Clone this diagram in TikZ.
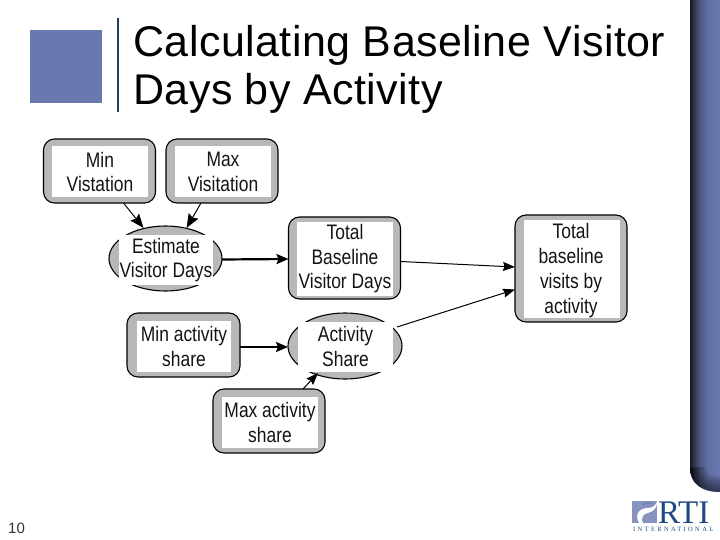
\documentclass[tikz,border=0pt]{standalone}
\usepackage{fontspec}
\setmainfont{Liberation Sans}
\newfontfamily\titlefont[LetterSpace=1.1]{Liberation Sans}
\newfontfamily\condfont[FakeStretch=0.83]{Liberation Sans}
\newfontfamily\logofont{Liberation Serif}
\newfontfamily\logosmall[LetterSpace=36]{Liberation Serif}
\usetikzlibrary{shapes.geometric,arrows.meta}
\definecolor{slateblue}{HTML}{6A78B0}
\definecolor{rulenavy}{HTML}{1F4060}
\definecolor{logonavy}{HTML}{1C4A80}
\definecolor{boxgray}{HTML}{B8B8B8}
\pgfdeclarehorizontalshading{bandshade}{100bp}{color(0bp)=(black!80!slateblue); color(25bp)=(black!80!slateblue); color(32bp)=(black!55!slateblue); color(42bp)=(black!25!slateblue); color(55bp)=(slateblue!92!black); color(75bp)=(slateblue); color(100bp)=(slateblue)}
\tikzset{
  outbox/.style={shape=rectangle,rounded corners=11pt,draw=black,fill=boxgray,line width=1.1pt,inner sep=0pt,outer sep=0pt},
  outell/.style={shape=ellipse,draw=black,fill=boxgray,line width=1.1pt,inner sep=0pt,outer sep=0pt},
  inbox/.style={shape=rectangle,fill=white,inner sep=0pt,outer sep=0pt,align=center,font=\condfont\fontsize{21}{24.5}\selectfont,text=black!92},
  thinarrow/.style={draw=black,line width=1pt,-{Stealth[length=14pt,width=11pt,inset=2pt]}},
  thickarrow/.style={draw=black,line width=2.2pt,-{Stealth[length=12pt,width=10pt,inset=2pt]}},
  hairarrow/.style={draw=black,line width=1pt,-{Stealth[length=12pt,width=9pt,inset=1.5pt]}},
  longarrow/.style={draw=black,line width=1pt,-{Stealth[length=12pt,width=9pt,inset=1.5pt]}}
}
\begin{document}
\begin{tikzpicture}[x=1pt,y=-1pt]
\useasboundingbox (0,0) rectangle (720,540);
% right band
\path[shading=bandshade]
  (690,0) -- (690,468) .. controls (690,482) and (700,492) .. (720,492) -- (720,0) -- cycle;
\begin{scope}
  \clip (690,0) -- (690,468) .. controls (690,482) and (700,492) .. (720,492) -- (720,0) -- cycle;
  \foreach \w in {4,8,12,16,20,24,28,32}
    \draw[black,opacity=.08,line width=\w pt] (690,468) .. controls (690,482) and (700,492) .. (720,492);
\end{scope}
% title decoration
\fill[slateblue] (30,30) rectangle (102,103);
\draw[rulenavy,line width=1.8pt] (118,18) -- (118,112);
\node[anchor=base west,inner sep=0pt,font=\titlefont\fontsize{43}{48}\selectfont] (title1) at (133,57) {Calculating Baseline Visitor};
\node[anchor=base west,inner sep=0pt,font=\titlefont\fontsize{43}{48}\selectfont] (title2) at (133,105) {Days by Activity};
\node[anchor=base west,inner sep=0pt,font=\fontsize{15}{16}\selectfont,text=black!80] (pagenum) at (8,533) {10};
% boxes
\node[outbox,minimum width=112pt,minimum height=64pt] (minv) at (99.5,171) {};
\node[inbox,minimum width=96pt,minimum height=51pt] (minvt) at (100,172) {Min\\Vistation};
\node[outbox,minimum width=112pt,minimum height=64pt] (maxv) at (222,171) {};
\node[inbox,minimum width=96pt,minimum height=51pt] (maxvt) at (223,172) {Max\\Visitation};
\node[outell,minimum width=113pt,minimum height=65pt] (est) at (165.5,258.5) {};
\node[inbox,minimum width=94pt,minimum height=50pt] (estt) at (166,260) {Estimate\\Visitor Days};
\node[outbox,minimum width=112pt,minimum height=82pt] (tot) at (344.5,258) {};
\node[inbox,minimum width=96pt,minimum height=74pt] (tott) at (345,259) {Total\\Baseline\\Visitor Days};
\node[outbox,minimum width=112pt,minimum height=107pt] (res) at (571,268.5) {};
\node[inbox,minimum width=96pt,minimum height=98pt] (resw) at (572,269) {};
\node[inbox,font=\condfont\fontsize{21}{25}\selectfont,fill=none] (rest) at (571,271) {Total\\baseline\\visits by\\activity};
\node[outbox,minimum width=113pt,minimum height=64pt] (mina) at (183.5,345) {};
\node[inbox,minimum width=94pt,minimum height=51pt] (minat) at (184,346.5) {Min activity\\share};
\node[outell,minimum width=114pt,minimum height=66pt] (act) at (345,346) {};
\node[inbox,minimum width=95pt,minimum height=50pt] (actt) at (345.5,346.5) {Activity\\Share};
\node[outbox,minimum width=112pt,minimum height=64pt] (maxa) at (269,421) {};
\node[inbox,minimum width=96pt,minimum height=51pt] (maxat) at (270,422.5) {Max activity\\share};
% connectors
\draw[thinarrow] ([xshift=24pt]minv.south) -- ([xshift=-22pt,yshift=-2pt]est.north);
\draw[thinarrow] ([xshift=-21pt]maxv.south) -- ([xshift=21pt,yshift=-2pt]est.north);
\draw[thickarrow] ([yshift=-1pt]est.east) -- ([yshift=-1pt]tot.west);
\draw[longarrow] ([yshift=-3.5pt]tot.east) -- ([yshift=1.5pt]res.west);
\draw[longarrow] ([xshift=-5pt,yshift=19pt]act.east) -- ([yshift=-21pt]res.west);
\draw[thickarrow] ([yshift=-2pt]mina.east) -- ([yshift=-1pt]act.west);
\draw[hairarrow] ([xshift=34pt]maxa.north) -- ([xshift=-27pt,yshift=6pt]act.south);
% logo
\fill[slateblue!80] (632,501) rectangle (657,523);
\fill[white] (639,523) .. controls (634,514) and (640,508) .. (648,508) .. controls (654,508) and (656,504) .. (657,502) -- (657,504) .. controls (655,512) and (650,512) .. (645,514) .. controls (642,516) and (641,520) .. (643,523) -- cycle;
\draw[logonavy!70,line width=1pt] (643,505) .. controls (646,502) and (650,502) .. (652,504);
\node[anchor=base west,inner sep=0pt,text=logonavy,font=\logofont\fontsize{33}{33}\selectfont] (rtilogo) at (658,523) {RTI};
\node[anchor=base west,inner sep=0pt,text=logonavy,font=\logosmall\fontsize{6.5}{7}\selectfont] (intl) at (633,531.5) {INTERNATIONAL};
\end{tikzpicture}
\end{document}
